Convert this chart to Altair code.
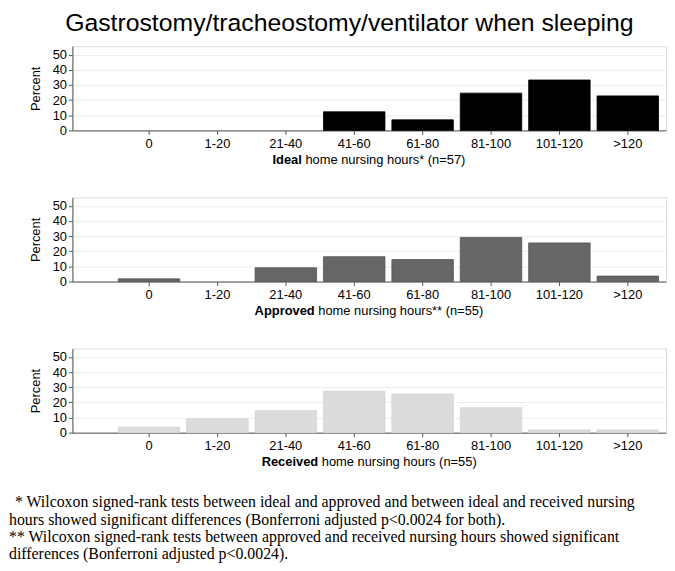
import altair as alt
import pandas as pd

FONT = "Liberation Sans"
SERIF = "Liberation Serif"

categories = ["0", "1-20", "21-40", "41-60", "61-80", "81-100", "101-120", ">120"]
ideal = [0, 0, 0, 12.3, 7.0, 24.6, 33.3, 22.8]
approved = [1.8, 0, 9.1, 16.4, 14.5, 29.1, 25.5, 3.6]
received = [3.6, 9.1, 14.5, 27.3, 25.5, 16.4, 1.8, 1.8]

label_bold = ["Ideal", "Approved", "Received"]
label_rest = ["home nursing hours* (n=57)", "home nursing hours** (n=55)", "home nursing hours (n=55)"]
fills = ["#000000", "#666666", "#dcdcdc"]
strokes = ["#000000", "#555555", "#d2d2d2"]
split_x = [231.5, 244.5, 248]

footnotes = [
    "* Wilcoxon signed-rank tests between ideal and approved and between ideal and received nursing",
    "hours showed significant differences (Bonferroni adjusted p<0.0024 for both).",
    "** Wilcoxon signed-rank tests between approved and received nursing hours showed significant",
    "differences (Bonferroni adjusted p<0.0024).",
]
foot_dx = [6, 0, 0, 0]
foot_y = [155, 173, 190, 207]

W, H = 599, 85


def panel(values, i, extra=None):
    df = pd.DataFrame({"cat": categories, "pct": values})
    x = alt.X(
        "cat:N", sort=categories,
        scale=alt.Scale(domain=categories, paddingInner=0.101, paddingOuter=0.39, align=0.86),
        axis=alt.Axis(title=None, labelAngle=0, labelFont=FONT, labelFontSize=13,
                      labelColor="#000", tickSize=4, tickColor="#555", domainColor="#555",
                      labelPadding=3, grid=False),
    )
    y = alt.Y(
        "pct:Q", scale=alt.Scale(domain=[0, 55.6], nice=False),
        axis=alt.Axis(title="Percent", values=[0, 10, 20, 30, 40, 50], grid=True,
                      gridColor="#ececec", labelFont=FONT, labelFontSize=13, labelColor="#000",
                      titleFont=FONT, titleFontSize=13, titleFontWeight="normal", titleColor="#000",
                      tickSize=4, tickColor="#555", domainColor="#555", labelPadding=2,
                      titlePadding=10),
    )
    bars = alt.Chart(df).transform_filter("datum.pct > 0").mark_bar(
        color=fills[i], stroke=strokes[i], strokeWidth=0.8
    ).encode(x=x, y=y)
    t1 = alt.Chart(pd.DataFrame({"t": [label_bold[i]]})).mark_text(
        align="right", baseline="middle", font=FONT, fontSize=13, fontWeight="bold", color="#000"
    ).encode(text="t:N", x=alt.value(split_x[i]), y=alt.value(115))
    t2 = alt.Chart(pd.DataFrame({"t": [label_rest[i]]})).mark_text(
        align="left", baseline="middle", font=FONT, fontSize=13, color="#000", dx=3.6
    ).encode(text="t:N", x=alt.value(split_x[i]), y=alt.value(115))
    layers = [bars, t1, t2]
    if extra is not None:
        layers += extra
    return alt.layer(*layers).properties(width=W, height=H)


foot_layers = []
for k in range(len(footnotes)):
    foot_layers.append(
        alt.Chart(pd.DataFrame({"t": [footnotes[k]]})).mark_text(
            align="left", baseline="middle", font=SERIF, fontSize=16, color="#000"
        ).encode(text="t:N", x=alt.value(-64 + foot_dx[k]), y=alt.value(foot_y[k]))
    )

chart = alt.vconcat(
    panel(ideal, 0),
    panel(approved, 1),
    panel(received, 2, foot_layers),
    spacing=28.5,
).properties(
    title=alt.TitleParams(
        "Gastrostomy/tracheostomy/ventilator when sleeping",
        font=FONT, fontSize=25, fontWeight="normal", color="#000", anchor="middle",
        offset=10, dx=12,
    ),
    padding=0,
).configure_view(stroke=None).configure(background="white")

chart.save("out.html", embed_options={"renderer": "svg", "actions": False})
